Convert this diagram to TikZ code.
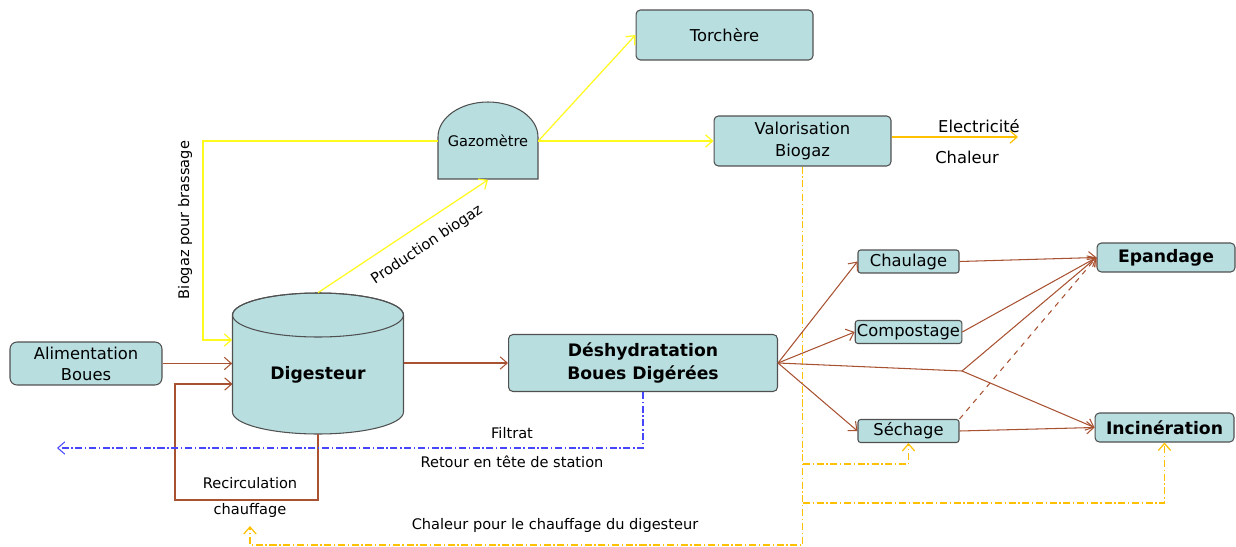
\documentclass[tikz,border=0pt]{standalone}
\usepackage{fontspec}
\setmainfont{DejaVu Sans}
\usetikzlibrary{arrows.meta,calc}
\definecolor{boxteal}{RGB}{184,222,224}
\definecolor{boxedge}{RGB}{80,80,80}
\definecolor{sludgebrown}{RGB}{168,82,50}
\definecolor{gasyellow}{RGB}{255,250,30}
\definecolor{heatorange}{RGB}{255,192,0}
\definecolor{filtrateblue}{RGB}{70,70,255}
\newcommand{\lblfont}{\fontsize{8.3}{10}\selectfont}
\newcommand{\procfont}{\fontsize{9.3}{12}\selectfont}
\newcommand{\keyfont}{\fontsize{9.8}{13.6}\selectfont\bfseries}

\begin{document}
\begin{tikzpicture}[x=0.02cm,y=-0.02cm,
  procbox/.style={draw=boxedge,fill=boxteal,line width=0.6pt,rounded corners=2.5pt,align=center,inner sep=1pt},
  flow/.style={-{Straight Barb[length=4pt,width=7pt]}},
  sludge/.style={sludgebrown,line width=0.6pt},
  gas/.style={gasyellow,line width=0.7pt},
  heat/.style={heatorange,line width=0.7pt,dash pattern=on 4pt off 1.5pt on 0.8pt off 1.5pt},
  filtrate/.style={filtrateblue,line width=0.6pt,dash pattern=on 4pt off 1.5pt on 0.8pt off 1.5pt},
  lbl/.style={font=\lblfont,inner sep=0pt}]
\useasboundingbox (0,0) rectangle (1236,547);

% LEFT: feed and digester
\node[procbox,font=\procfont,minimum width=3.04cm,minimum height=0.86cm,rounded corners=4pt] (ali) at (86,363.5) {Alimentation\\Boues};
% Digester cylinder
\filldraw[fill=boxteal,draw=boxedge,line width=0.6pt] (232.5,315) -- (232.5,412)
  arc[start angle=180,end angle=360,x radius=1.71cm,y radius=0.44cm] -- (403.5,315)
  arc[start angle=0,end angle=180,x radius=1.71cm,y radius=0.44cm] -- cycle;
\draw[boxedge,line width=0.6pt] (318,315) ellipse [x radius=1.71cm,y radius=0.44cm];
\node[minimum width=3.42cm,minimum height=2.82cm,inner sep=0pt] (dig) at (318,363.5) {};
\node[font=\keyfont] (diglbl) at (318,375) {Digesteur};

% TOP: gas holder, flare, biogas use
\filldraw[fill=boxteal,draw=boxedge,line width=0.6pt] (438,179) -- (438,137)
  arc[start angle=180,end angle=0,x radius=1cm,y radius=0.7cm] -- (538,179) -- cycle;
\node[minimum width=2cm,minimum height=1.54cm,inner sep=0pt,font=\lblfont] (gaz) at (488,141) {Gazomètre};
\node[procbox,font=\procfont,minimum width=3.54cm,minimum height=1cm] (torch) at (724.5,35) {Torchère};
\node[procbox,font=\procfont,minimum width=3.54cm,minimum height=1cm] (valo) at (802.5,141) {Valorisation\\Biogaz};

% MIDDLE: dewatering
\node[procbox,font=\keyfont,minimum width=5.38cm,minimum height=1.14cm] (desh) at (643,363) {Déshydratation\\Boues Digérées};

% RIGHT: treatment and outlets
\node[procbox,font=\procfont,minimum width=2.02cm,minimum height=0.46cm,rounded corners=1.5pt] (chaul) at (908.5,261.5) {Chaulage};
\node[procbox,font=\procfont,minimum width=2.02cm,minimum height=0.46cm,rounded corners=1.5pt] (comp) at (908.5,332) {Compostage};
\node[procbox,font=\procfont,minimum width=2.02cm,minimum height=0.46cm,rounded corners=1.5pt] (sech) at (908.5,431) {Séchage};
\node[procbox,font=\keyfont,minimum width=2.76cm,minimum height=0.58cm] (epan) at (1166,257.5) {Epandage};
\node[procbox,font=\keyfont,minimum width=2.78cm,minimum height=0.58cm] (inc) at (1164.5,427.5) {Incinération};

% bend points
\coordinate (brc) at (203,340);
\coordinate (rcl) at (175,500);
\coordinate (rcin) at (232.5,384);
\coordinate (retour) at (57,448);
\coordinate (elec) at (1018,137);
\coordinate (chf) at (250,545);
\coordinate (chfend) at (250,526);
\coordinate (hs) at (803,464);
\coordinate (hi) at (803,503);
\coordinate (jn) at (962,371);

% biogas (yellow)
\draw[gas,flow] (dig.north) -- (gaz.south);
\draw[gas,flow] (gaz.east) -- (torch.west);
\draw[gas,flow] (gaz.east) -- (valo.west);
\draw[gas,flow] (gaz.west) -| (brc) -- (dig.west |- brc);
\node[lbl,rotate=34] (lprod) at (427,245) {Production biogaz};
\node[lbl,rotate=90] (lbrass) at (185,220) {Biogaz pour brassage};

% sludge (brown)
\draw[sludge,flow] (ali.east) -- (ali.east -| dig.west);
\draw[sludge,flow] (dig.east |- desh.west) -- (desh.west);
\draw[sludge,flow] (dig.south) |- (rcl) |- (rcin);
\node[lbl] (lrecirc) at (250,483) {Recirculation};
\node[lbl] (lchauf) at (250,510) {chauffage};

% filtrate (blue)
\draw[filtrate,flow] (desh.south) |- (retour);
\node[lbl] (lfiltrat) at (512,433) {Filtrat};
\node[lbl] (lretour) at (512,462) {Retour en tête de station};

% heat (orange)
\draw[heatorange,line width=0.7pt,flow] (valo.east |- elec) -- (elec);
\node[lbl,font=\procfont] (lelec) at (979,126) {Electricité};
\node[lbl,font=\procfont] (lchal) at (967,157) {Chaleur};
\draw[heat,flow] (valo.south) |- (chf) -- (chfend);
\draw[heat,flow] (hs) -| (sech.south);
\draw[heat,flow] (hi) -| (inc.south);
\node[lbl] (lchdig) at (555,525) {Chaleur pour le chauffage du digesteur};

% sludge outlets
\draw[sludge,flow] (desh.east) -- (chaul.west);
\draw[sludge,flow] (desh.east) -- (comp.west);
\draw[sludge,flow] (desh.east) -- (sech.west);
\draw[sludge] (desh.east) -- (jn);
\draw[sludge,flow] (jn) -- (epan.west);
\draw[sludge,flow] (jn) -- (inc.west);
\draw[sludge,flow] (chaul.east) -- (epan.west);
\draw[sludge,flow] (comp.east) -- (epan.west);
\draw[sludge,flow] (sech.east) -- (inc.west);
\draw[sludge,dashed,flow] (sech.north east) -- (epan.west);
\end{tikzpicture}
\end{document}
